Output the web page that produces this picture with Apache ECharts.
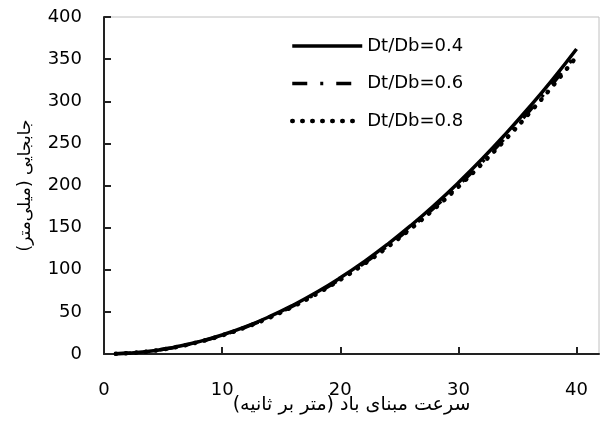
<!DOCTYPE html>
<html><head><meta charset="utf-8">
<script src="https://cdn.jsdelivr.net/npm/echarts@6/dist/echarts.min.js"></script>
<style>html,body{margin:0;padding:0;background:#fff}#c{width:600px;height:427px}</style>
</head><body><div id="c"></div>
<script>
const xValues = [1, 2, 3, 4, 5, 6, 8, 10, 12, 14, 16, 18, 20, 22, 24, 26, 28, 30, 32, 34, 36, 38, 40];
const s04 = [0.2, 0.9, 2.0, 3.6, 5.7, 8.1, 14.5, 22.6, 32.5, 44.3, 57.9, 73.2, 90.4, 109.4, 130.2, 152.8, 177.2, 203.4, 231.4, 261.3, 292.9, 326.3, 362];
const s06 = [0.2, 0.9, 2.0, 3.6, 5.6, 8.0, 14.2, 22.3, 32.0, 43.6, 57.0, 72.1, 89.0, 107.7, 128.2, 150.4, 174.4, 200.3, 227.8, 257.2, 288.4, 321.3, 356];
const s08 = [0.2, 0.9, 2.0, 3.5, 5.5, 7.9, 14.1, 22.1, 31.8, 43.2, 56.4, 71.4, 88.2, 106.7, 127.0, 149.1, 172.9, 198.5, 225.8, 254.9, 285.8, 318.4, 353];
const seriesNames = ['Dt/Db=0.4', 'Dt/Db=0.6', 'Dt/Db=0.8'];
const xTicks = [0, 10, 20, 30, 40];
const xTitle = 'سرعت مبنای باد (متر بر ثانیه)';
const yTitle = 'جابجایی (میلی\u200cمتر)';

const pair = arr => xValues.map((x, i) => [x, arr[i]]);
const font = 'DejaVu Sans';
const chart = echarts.init(document.getElementById('c'), null, {renderer: 'canvas'});
chart.setOption({
  animation: false,
  backgroundColor: '#fff',
  grid: {left: 104, right: 1, top: 17, bottom: 73, show: true, borderColor: '#c0c0c0', borderWidth: 1, backgroundColor: 'transparent'},
  legend: {
    orient: 'vertical', left: 285, top: 32, itemWidth: 70, itemHeight: 14, itemGap: 19.5,
    textStyle: {fontFamily: font, fontSize: 18, color: '#000'},
    itemStyle: {opacity: 0},
    data: [
      {name: seriesNames[0], lineStyle: {width: 3.5}},
      {name: seriesNames[1], lineStyle: {width: 3.5}},
      {name: seriesNames[2], lineStyle: {width: 4.5}}
    ]
  },
  xAxis: {
    type: 'value', min: 0, max: 41.9, interval: 10,
    name: xTitle, nameLocation: 'middle', nameGap: 42, nameMoveOverlap: false,
    nameTextStyle: {fontFamily: font, fontSize: 19, color: '#000'},
    axisLine: {onZero: false, lineStyle: {color: '#222', width: 2}},
    axisTick: {inside: true, length: 7, lineStyle: {color: '#222', width: 2}, customValues: xTicks},
    axisLabel: {fontFamily: font, fontSize: 18, color: '#000', margin: 27, customValues: xTicks},
    splitLine: {show: false}
  },
  yAxis: {
    type: 'value', min: 0, max: 400, interval: 50,
    name: yTitle, nameLocation: 'middle', nameGap: 70,
    nameTextStyle: {fontFamily: font, fontSize: 17, color: '#000'},
    axisLine: {show: true, lineStyle: {color: '#222', width: 2}},
    axisTick: {show: true, inside: true, length: 7, lineStyle: {color: '#222', width: 2}},
    axisLabel: {fontFamily: font, fontSize: 18, color: '#000', margin: 22},
    splitLine: {show: false}
  },
  series: [
    {name: seriesNames[0], type: 'line', smooth: true, symbol: 'none', data: pair(s04),
     itemStyle: {color: '#000'},
     lineStyle: {color: '#000', width: 3.5, type: 'solid'}},
    {name: seriesNames[1], type: 'line', smooth: true, symbol: 'none', data: pair(s06),
     itemStyle: {color: '#000'},
     lineStyle: {color: '#000', width: 3.5, type: [15, 13, 3, 13], cap: 'butt'}},
    {name: seriesNames[2], type: 'line', smooth: true, symbol: 'none', data: pair(s08),
     itemStyle: {color: '#000'},
     lineStyle: {color: '#000', width: 4.5, type: [0.5, 9.5], cap: 'round'}}
  ]
});
</script></body></html>
